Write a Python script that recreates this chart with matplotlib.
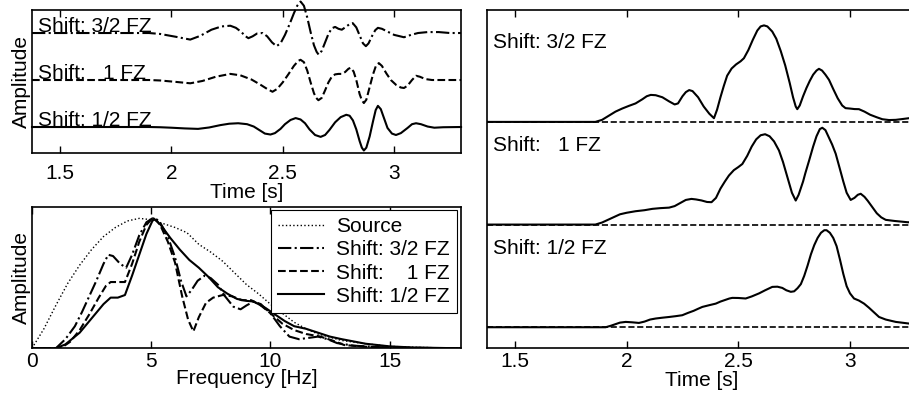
import matplotlib.pyplot as plt

plt.rcParams['font.family'] = ['Liberation Sans', 'DejaVu Sans']
plt.rcParams['font.size'] = 15

# --- seismograms (top left), amplitude relative to each trace's baseline
seis_half_t = [1.375, 1.90, 1.95, 2.00, 2.06, 2.12, 2.17, 2.22, 2.26, 2.30, 2.34, 2.37, 2.40,
               2.42, 2.445, 2.465, 2.49, 2.51, 2.535, 2.558, 2.58, 2.60, 2.62, 2.645, 2.67,
               2.69, 2.71, 2.735, 2.76, 2.785, 2.80, 2.815, 2.83, 2.845, 2.855, 2.864, 2.875,
               2.89, 2.905, 2.917, 2.927, 2.94, 2.955, 2.97, 2.99, 3.008, 3.03, 3.06, 3.08,
               3.098, 3.12, 3.15, 3.18, 3.22, 3.30]
seis_half_a = [0, 0, -0.005, -0.015, -0.03, -0.04, -0.01, 0.04, 0.07, 0.08, 0.06, 0.01, -0.08,
               -0.14, -0.16, -0.13, -0.04, 0.06, 0.15, 0.19, 0.16, 0.08, -0.05, -0.17, -0.21,
               -0.17, -0.06, 0.10, 0.21, 0.26, 0.24, 0.14, -0.05, -0.30, -0.44, -0.50, -0.44,
               -0.20, 0.12, 0.36, 0.45, 0.38, 0.18, -0.02, -0.14, -0.17, -0.13, -0.02, 0.06,
               0.08, 0.06, 0.01, -0.015, -0.005, 0]
seis_one_t = [1.375, 1.90, 1.95, 2.02, 2.085, 2.14, 2.20, 2.265, 2.31, 2.36, 2.40, 2.43, 2.454,
              2.475, 2.50, 2.525, 2.55, 2.57, 2.58, 2.595, 2.61, 2.625, 2.64, 2.65, 2.66,
              2.675, 2.69, 2.705, 2.72, 2.735, 2.75, 2.765, 2.78, 2.795, 2.805, 2.818, 2.83,
              2.845, 2.855, 2.864, 2.875, 2.89, 2.905, 2.918, 2.931, 2.945, 2.965, 2.985,
              3.01, 3.03, 3.044, 3.06, 3.08, 3.098, 3.115, 3.14, 3.17, 3.30]
seis_one_a = [0, 0, -0.01, -0.04, -0.07, -0.02, 0.07, 0.13, 0.10, 0.01, -0.10, -0.19, -0.25,
              -0.19, -0.05, 0.12, 0.30, 0.41, 0.43, 0.38, 0.20, -0.05, -0.28, -0.38, -0.43,
              -0.38, -0.22, -0.05, 0.07, 0.12, 0.13, 0.13, 0.17, 0.24, 0.26, 0.18, 0.0,
              -0.30, -0.43, -0.49, -0.42, -0.15, 0.12, 0.30, 0.36, 0.30, 0.14, 0.0,
              -0.11, -0.16, -0.17, -0.12, 0.0, 0.09, 0.07, 0.02, 0.0, 0]
seis_3half_t = [1.375, 1.90, 1.95, 2.02, 2.085, 2.13, 2.18, 2.225, 2.265, 2.29, 2.315, 2.33,
                2.346, 2.365, 2.385, 2.41, 2.43, 2.452, 2.472, 2.49, 2.51, 2.53, 2.55, 2.565,
                2.58, 2.595, 2.61, 2.625, 2.64, 2.652, 2.661, 2.675, 2.69, 2.705, 2.72, 2.735,
                2.75, 2.765, 2.78, 2.80, 2.814, 2.83, 2.845, 2.86, 2.873, 2.885, 2.90, 2.915,
                2.927, 2.945, 2.97, 3.00, 3.044, 3.075, 3.107, 3.15, 3.20, 3.25, 3.30]
seis_3half_a = [0, 0, -0.02, -0.08, -0.14, -0.06, 0.07, 0.14, 0.155, 0.11, 0.02, -0.06,
                -0.11, -0.07, -0.01, 0.0, -0.07, -0.20, -0.28, -0.22, -0.04, 0.18, 0.42, 0.58,
                0.67, 0.58, 0.33, 0.02, -0.26, -0.40, -0.46, -0.38, -0.20, -0.02, 0.10, 0.13,
                0.09, 0.07, 0.12, 0.19, 0.21, 0.12, -0.05, -0.22, -0.28, -0.22, -0.07, 0.06,
                0.11, 0.09, 0.03, -0.04, -0.09, -0.04, 0.0, 0.02, 0.02, 0.0, 0]

# --- amplitude spectra (bottom left), normalised
src_f = [0, 0.5, 1.0, 1.5, 2.0, 2.5, 3.0, 3.5, 4.0, 4.5, 5.0, 5.5, 6.0, 6.5, 7.0, 7.5, 8.0,
         8.5, 9.0, 9.5, 10.0, 10.5, 11.0, 11.5, 12.0, 13.0, 14.0, 15.0, 16.0, 18.0]
src_a = [0.0, 0.15, 0.33, 0.50, 0.64, 0.76, 0.86, 0.93, 0.98, 1.0, 0.99, 0.96, 0.93, 0.89,
         0.80, 0.74, 0.67, 0.58, 0.49, 0.42, 0.34, 0.27, 0.20, 0.15, 0.11, 0.06, 0.035,
         0.015, 0.008, 0.0]
spec_3half_f = [0, 1.0, 1.4, 1.8, 2.1, 2.4, 2.7, 3.0, 3.2, 3.4, 3.55, 3.7, 3.95, 4.2, 4.5,
                4.8, 5.05, 5.25, 5.4, 5.7, 6.0, 6.25, 6.48, 6.7, 6.95, 7.25, 7.5, 7.8, 8.1,
                8.45, 8.75, 9.0, 9.3, 9.6, 10.0, 10.4, 10.8, 11.2, 11.6, 12.0, 12.4, 12.8,
                13.5, 15.0, 18.0]
spec_3half_a = [0, 0.0, 0.07, 0.17, 0.28, 0.40, 0.52, 0.65, 0.72, 0.71, 0.68, 0.65, 0.62,
                0.72, 0.87, 0.97, 1.0, 0.99, 0.96, 0.86, 0.70, 0.52, 0.40, 0.45, 0.52, 0.56,
                0.54, 0.49, 0.40, 0.32, 0.30, 0.33, 0.36, 0.34, 0.27, 0.17, 0.09, 0.07,
                0.08, 0.09, 0.07, 0.04, 0.02, 0.005, 0]
spec_one_f = [0, 1.2, 1.6, 2.0, 2.4, 2.8, 3.1, 3.3, 3.6, 3.9, 4.2, 4.5, 4.8, 5.05, 5.25, 5.4,
              5.7, 6.0, 6.3, 6.55, 6.77, 7.0, 7.3, 7.6, 8.0, 8.4, 8.8, 9.2, 9.6, 10.0, 10.5,
              11.0, 11.5, 12.1, 12.6, 13.1, 14.0, 15.0, 18.0]
spec_one_a = [0, 0.0, 0.05, 0.14, 0.26, 0.39, 0.48, 0.51, 0.51, 0.51, 0.65, 0.82, 0.95, 1.0,
              0.98, 0.94, 0.82, 0.66, 0.40, 0.22, 0.13, 0.24, 0.35, 0.39, 0.41, 0.40, 0.37,
              0.37, 0.33, 0.27, 0.19, 0.14, 0.11, 0.09, 0.06, 0.025, 0.012, 0.005, 0]
spec_half_f = [0, 1.0, 1.4, 2.0, 2.5, 3.0, 3.3, 3.6, 3.9, 4.2, 4.5, 4.8, 5.1, 5.4, 5.8, 6.2,
               6.6, 7.0, 7.4, 7.8, 8.2, 8.6, 9.0, 9.3, 9.8, 10.2, 10.6, 11.0, 11.5, 12.0,
               12.5, 13.0, 14.0, 15.0, 16.0, 18.0]
spec_half_a = [0, 0.0, 0.03, 0.12, 0.23, 0.34, 0.39, 0.39, 0.41, 0.56, 0.72, 0.88, 1.0, 0.95,
               0.85, 0.76, 0.68, 0.62, 0.55, 0.47, 0.42, 0.38, 0.365, 0.36, 0.31, 0.26, 0.21,
               0.17, 0.15, 0.12, 0.09, 0.07, 0.035, 0.015, 0.006, 0]

# --- envelopes (right), amplitude relative to each baseline
env_3half_t = [1.375, 1.86, 1.89, 1.92, 1.95, 1.98, 2.01, 2.04, 2.07, 2.09, 2.108, 2.13, 2.16,
               2.19, 2.215, 2.23, 2.25, 2.265, 2.28, 2.295, 2.32, 2.345, 2.37, 2.391, 2.405,
               2.42, 2.435, 2.45, 2.47, 2.49, 2.51, 2.525, 2.545, 2.565, 2.585, 2.60, 2.615,
               2.63, 2.652, 2.67, 2.69, 2.71, 2.73, 2.745, 2.757, 2.764, 2.775, 2.79, 2.805,
               2.82, 2.835, 2.85, 2.861, 2.875, 2.89, 2.906, 2.925, 2.945, 2.965, 2.98, 3.0,
               3.02, 3.04, 3.065, 3.09, 3.12, 3.145, 3.175, 3.205, 3.235, 3.264, 3.30]
env_3half_a = [0, 0, 0.02, 0.06, 0.10, 0.13, 0.156, 0.18, 0.22, 0.25, 0.263, 0.26, 0.24,
               0.20, 0.17, 0.18, 0.25, 0.29, 0.31, 0.30, 0.24, 0.15, 0.08, 0.036, 0.12,
               0.24, 0.35, 0.45, 0.52, 0.56, 0.59, 0.62, 0.70, 0.80, 0.89, 0.93, 0.94,
               0.93, 0.88, 0.81, 0.69, 0.55, 0.38, 0.24, 0.15, 0.124, 0.16, 0.25, 0.33,
               0.40, 0.46, 0.50, 0.517, 0.50, 0.46, 0.41, 0.32, 0.23, 0.16, 0.134, 0.13,
               0.125, 0.124, 0.10, 0.07, 0.045, 0.026, 0.018, 0.02, 0.028, 0.036, 0.045]
env_one_t = [1.375, 1.86, 1.89, 1.92, 1.95, 1.97, 2.0, 2.04, 2.08, 2.115, 2.15, 2.19, 2.215,
             2.24, 2.265, 2.29, 2.31, 2.335, 2.36, 2.38, 2.40, 2.42, 2.44, 2.458, 2.48, 2.50,
             2.518, 2.54, 2.56, 2.58, 2.60, 2.62, 2.64, 2.66, 2.682, 2.70, 2.72, 2.74, 2.757,
             2.77, 2.79, 2.80, 2.817, 2.835, 2.85, 2.865, 2.876, 2.89, 2.905, 2.92, 2.936,
             2.955, 2.97, 2.985, 3.003, 3.02, 3.035, 3.048, 3.065, 3.08, 3.10, 3.12, 3.14,
             3.16, 3.20, 3.257, 3.30]
env_one_a = [0, 0, 0.02, 0.05, 0.08, 0.10, 0.115, 0.13, 0.14, 0.153, 0.16, 0.165, 0.18,
             0.21, 0.24, 0.25, 0.245, 0.235, 0.22, 0.218, 0.26, 0.35, 0.42, 0.478, 0.53, 0.56,
             0.59, 0.67, 0.76, 0.83, 0.87, 0.88, 0.86, 0.81, 0.722, 0.61, 0.46, 0.31, 0.234,
             0.29, 0.42, 0.50, 0.624, 0.76, 0.86, 0.93, 0.943, 0.92, 0.85, 0.78, 0.69,
             0.54, 0.42, 0.31, 0.24, 0.26, 0.29, 0.30, 0.27, 0.23, 0.17, 0.11, 0.07,
             0.046, 0.035, 0.023, 0.02]
env_half_t = [1.375, 1.906, 1.93, 1.95, 1.97, 1.996, 2.025, 2.055, 2.08, 2.105, 2.13, 2.16,
              2.19, 2.22, 2.249, 2.275, 2.30, 2.32, 2.339, 2.37, 2.399, 2.42, 2.44, 2.46,
              2.473, 2.50, 2.533, 2.56, 2.593, 2.62, 2.652, 2.675, 2.697, 2.715, 2.735, 2.75,
              2.765, 2.78, 2.795, 2.81, 2.825, 2.84, 2.855, 2.87, 2.885, 2.895, 2.91, 2.925,
              2.94, 2.955, 2.97, 2.985, 3.0, 3.018, 3.04, 3.063, 3.085, 3.11, 3.13, 3.16,
              3.205, 3.264, 3.30]
env_half_a = [0, 0, 0.015, 0.03, 0.045, 0.052, 0.048, 0.042, 0.055, 0.075, 0.085, 0.093,
              0.10, 0.108, 0.117, 0.14, 0.16, 0.18, 0.198, 0.215, 0.23, 0.25, 0.265, 0.28,
              0.286, 0.285, 0.28, 0.30, 0.33, 0.36, 0.393, 0.395, 0.383, 0.36, 0.345, 0.35,
              0.38, 0.42, 0.50, 0.60, 0.71, 0.80, 0.87, 0.92, 0.945, 0.945, 0.92, 0.87,
              0.79, 0.66, 0.52, 0.40, 0.33, 0.28, 0.26, 0.23, 0.19, 0.14, 0.10, 0.075,
              0.052, 0.036, 0.03]

labels = ['Shift: 3/2 FZ', 'Shift:   1 FZ', 'Shift: 1/2 FZ']
legend_labels = ['Source', 'Shift: 3/2 FZ', 'Shift:    1 FZ', 'Shift: 1/2 FZ']
offsets = [2, 1, 0]
styles = ['-.', '--', '-']
lw = 1.5
fs = 15

fig = plt.figure(figsize=(9.09, 3.98), dpi=100)
ax1 = fig.add_axes([0.0352, 0.6156, 0.472, 0.3593])
ax2 = fig.add_axes([0.0352, 0.1249, 0.472, 0.3558])
ax3 = fig.add_axes([0.5358, 0.1249, 0.473, 0.85])

for ax in (ax1, ax2, ax3):
    ax.tick_params(direction='in', top=True, length=5, width=1, labelsize=fs, pad=2.5)
    for s in ax.spines.values():
        s.set_linewidth(1.2)
    ax.set_yticks([])
ax1.tick_params(axis='x', pad=8)

# seismograms
seis = [(seis_3half_t, seis_3half_a), (seis_one_t, seis_one_a), (seis_half_t, seis_half_a)]
for (t, a), off, ls, lab in zip(seis, offsets, styles, labels):
    ax1.plot(t, [v + off for v in a], color='k', ls=ls, lw=lw, clip_on=False)
    ax1.text(1.4, off + 0.03, lab, fontsize=fs, ha='left', va='baseline')
ax1.set_xlim(1.375, 3.3)
ax1.set_ylim(-0.553, 2.49)
ax1.set_xticks([1.5, 2, 2.5, 3])
ax1.set_xticklabels(['1.5', '2', '2.5', '3'])
ax1.set_xlabel('Time [s]', fontsize=fs, labelpad=0)
ax1.set_ylabel('Amplitude', fontsize=fs, labelpad=1)

# spectra
ax2.plot(src_f, src_a, color='k', ls=':', lw=1.0, label=legend_labels[0])
ax2.plot(spec_3half_f, spec_3half_a, color='k', ls='-.', lw=lw, label=legend_labels[1])
ax2.plot(spec_one_f, spec_one_a, color='k', ls='--', lw=lw, label=legend_labels[2])
ax2.plot(spec_half_f, spec_half_a, color='k', ls='-', lw=lw, label=legend_labels[3])
ax2.set_xlim(0, 18)
ax2.set_ylim(0, 1.09)
ax2.set_xticks([0, 5, 10, 15])
ax2.set_xlabel('Frequency [Hz]', fontsize=fs, labelpad=-1)
ax2.set_ylabel('Amplitude', fontsize=fs, labelpad=1)
leg = ax2.legend(loc='upper right', bbox_to_anchor=(0.9907, 0.9767), borderaxespad=0,
                 fontsize=fs, fancybox=False, framealpha=1, edgecolor='k',
                 handlelength=2.2, handletextpad=0.6, labelspacing=0.2, borderpad=0.35)
leg.get_frame().set_linewidth(0.8)

# envelopes
envs = [(env_3half_t, env_3half_a), (env_one_t, env_one_a), (env_half_t, env_half_a)]
for (t, a), off, lab in zip(envs, offsets, labels):
    ax3.axhline(off, color='k', ls='--', lw=1.2)
    ax3.plot(t, [v + off for v in a], color='k', ls='-', lw=lw)
    ax3.text(1.4, off + 0.77, lab, fontsize=fs, ha='left', va='center')
ax3.set_xlim(1.375, 3.3)
ax3.set_ylim(-0.205, 3.09)
ax3.set_xticks([1.5, 2, 2.5, 3])
ax3.set_xticklabels(['1.5', '2', '2.5', '3'])
ax3.set_xlabel('Time [s]', fontsize=fs, labelpad=0)

fig.savefig('out.png', dpi=100)
